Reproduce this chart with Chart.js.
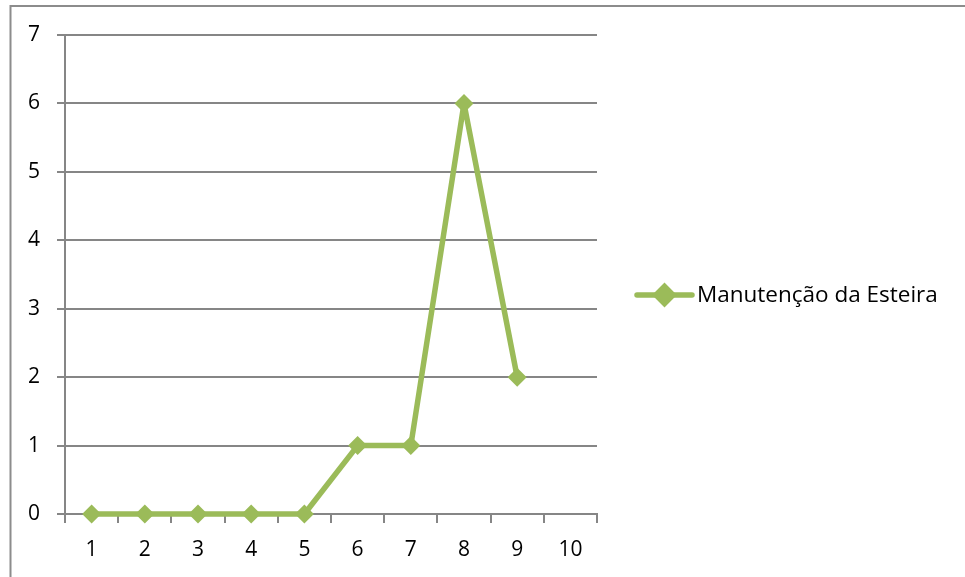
<!DOCTYPE html>
<html>
<head>
<meta charset="utf-8">
<script src="https://cdn.jsdelivr.net/npm/chart.js@4/dist/chart.umd.min.js"></script>
<style>
  html, body { margin: 0; padding: 0; background: #fff; }
  #wrap { position: relative; width: 965px; height: 577px; }
  canvas { display: block; }
</style>
</head>
<body>
<div id="wrap"><canvas id="c" width="965" height="577"></canvas></div>
<script>
// Categories along the x axis
const categories = ['1', '2', '3', '4', '5', '6', '7', '8', '9', '10'];
// Series values (no value for the last category)
const seriesName = 'Manutenção da Esteira';
const seriesValues = [0, 0, 0, 0, 0, 1, 1, 6, 2, null];
// Value axis range
const yTicks = [0, 1, 2, 3, 4, 5, 6, 7];

const GREEN = '#9BBB59';
const AXIS_GRAY = '#868686';
const FONT = 'Open Sans';

// Outer frame and the legend drawn on the canvas
const framePlugin = {
  id: 'frameAndLegend',
  beforeDraw(chart) {
    const ctx = chart.ctx;
    ctx.save();
    ctx.fillStyle = '#fff';
    ctx.fillRect(0, 0, chart.width, chart.height);
    ctx.strokeStyle = '#8c8c8c';
    ctx.lineWidth = 2;
    ctx.beginPath();
    ctx.moveTo(10.5, chart.height + 5);
    ctx.lineTo(10.5, 6);
    ctx.lineTo(chart.width + 5, 6);
    ctx.stroke();
    ctx.restore();
  },
  afterDraw(chart) {
    const ctx = chart.ctx;
    const ds = chart.data.datasets[0];
    const y = 295;
    const x0 = 637, x1 = 692;
    ctx.save();
    ctx.strokeStyle = ds.borderColor;
    ctx.lineWidth = ds.borderWidth;
    ctx.lineCap = 'round';
    ctx.beginPath();
    ctx.moveTo(x0, y);
    ctx.lineTo(x1, y);
    ctx.stroke();
    Chart.helpers.drawPoint(ctx, {
      pointStyle: 'rectRot',
      radius: 8.5,
      borderWidth: 1
    }, (x0 + x1) / 2, y);
    ctx.fillStyle = ds.pointBackgroundColor;
    ctx.fill();
    ctx.fillStyle = '#000';
    ctx.font = '22.5px "' + FONT + '"';
    ctx.textBaseline = 'middle';
    ctx.textAlign = 'left';
    ctx.fillText(ds.label, 697, y + 1);
    ctx.restore();
  }
};

new Chart(document.getElementById('c'), {
  type: 'line',
  data: {
    labels: categories,
    datasets: [{
      label: seriesName,
      data: seriesValues,
      borderColor: GREEN,
      backgroundColor: GREEN,
      borderWidth: 5.5,
      borderJoinStyle: 'round',
      borderCapStyle: 'round',
      pointStyle: 'rectRot',
      pointRadius: 9.5,
      pointHoverRadius: 9.5,
      pointBackgroundColor: GREEN,
      pointBorderColor: GREEN,
      pointBorderWidth: 0,
      spanGaps: false,
      tension: 0,
      clip: false
    }]
  },
  options: {
    responsive: false,
    animation: false,
    devicePixelRatio: 1,
    layout: { padding: { left: 0, right: 368, top: 35, bottom: 0 } },
    plugins: {
      legend: { display: false },
      tooltip: { enabled: false }
    },
    scales: {
      x: {
        type: 'category',
        offset: true,
        grid: {
          offset: true,
          drawOnChartArea: false,
          drawTicks: true,
          tickLength: 9,
          color: AXIS_GRAY,
          lineWidth: 2
        },
        border: { color: AXIS_GRAY, width: 2 },
        ticks: {
          color: '#000',
          font: { family: FONT, size: 21 },
          padding: 14,
          maxRotation: 0,
          autoSkip: false
        },
        afterFit(scale) { scale.height = 63; }
      },
      y: {
        min: yTicks[0],
        max: yTicks[yTicks.length - 1],
        afterBuildTicks(scale) { scale.ticks = yTicks.map(v => ({ value: v })); },
        grid: {
          color: AXIS_GRAY,
          lineWidth: 2,
          drawTicks: true,
          tickLength: 8
        },
        border: { color: AXIS_GRAY, width: 2 },
        ticks: {
          color: '#000',
          font: { family: FONT, size: 21 },
          padding: 17
        },
        afterFit(scale) { scale.width = 65; }
      }
    }
  },
  plugins: [framePlugin]
});
</script>
</body>
</html>
